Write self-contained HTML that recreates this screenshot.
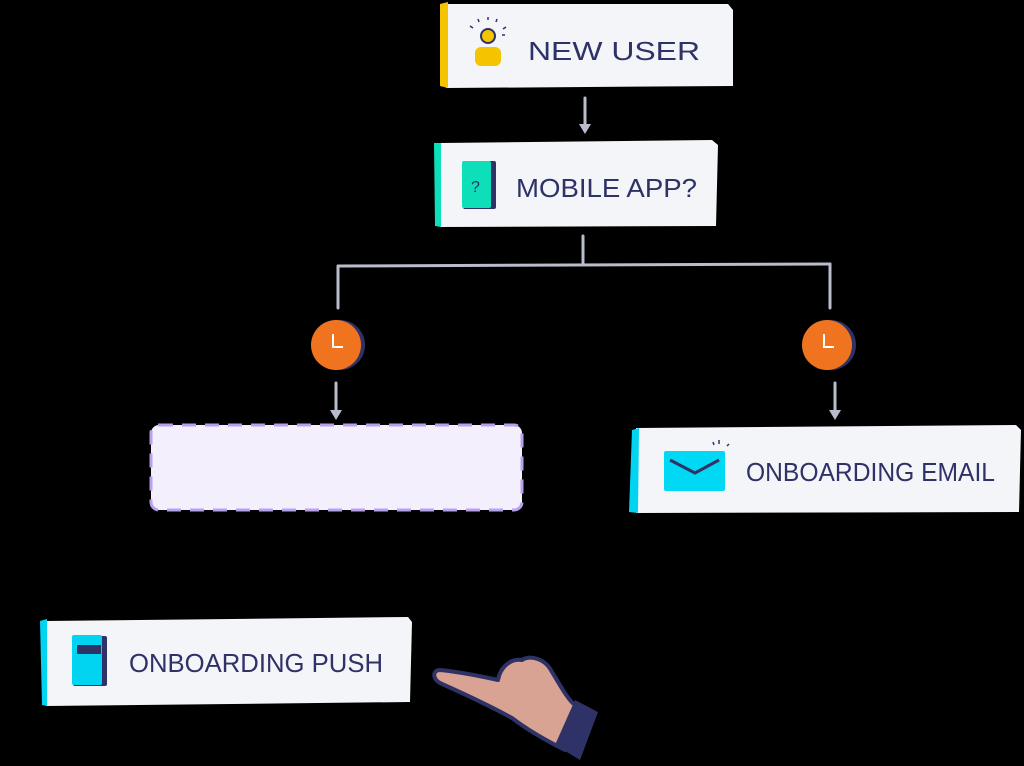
<!DOCTYPE html>
<html><head><meta charset="utf-8"><style>
html,body{margin:0;padding:0;background:#000;}
svg{display:block}
text{font-family:"Liberation Sans",sans-serif;fill:#2e3266;font-size:26px}
</style></head><body>
<svg width="1024" height="766" viewBox="0 0 1024 766">
<rect width="1024" height="766" fill="#000"/>
<g stroke="#b9bcca" stroke-width="3" fill="none" stroke-linecap="round">
<path d="M585 98 L585 128"/>
<path d="M583 236 L583 264"/>
<path d="M338 266 L830 264"/>
<path d="M338 266 L338 308"/>
<path d="M830 264 L830 308"/>
<path d="M336 383 L336 414"/>
<path d="M835 383 L835 414"/>
</g>
<g fill="#b9bcca">
<path d="M579 124 L591 124 L585 134Z"/>
<path d="M330 410 L342 410 L336 420Z"/>
<path d="M829 410 L841 410 L835 420Z"/>
</g>
<!-- new user -->
<path d="M446 4 L728 4 L733 10 L733 86 L446 88Z" fill="#f3f5f8"/>
<path d="M440 4 L448 2 L448 88 L440 86Z" fill="#f5c400"/>
<circle cx="488" cy="36" r="7" fill="#f5c400" stroke="#2e3266" stroke-width="2"/>
<rect x="475" y="47" width="26" height="19" rx="6" fill="#f5c400"/>
<g stroke="#2e3266" stroke-width="1.5"><path d="M473 28l-3-2M479 22l-1-3M488 20v-3M496 22l1-3M503 29l3-2M502 35l3 0"/></g>
<text x="528" y="60" textLength="172" lengthAdjust="spacingAndGlyphs">NEW USER</text>
<!-- mobile app -->
<path d="M440 143 L712 140 L718 145 L716 226 L440 227Z" fill="#f3f5f8"/>
<path d="M434 143 L441 143 L441 227 L435 226Z" fill="#0de0b8"/>
<rect x="463" y="161" width="33" height="48" rx="2" fill="#2e3266"/>
<rect x="462" y="161" width="29" height="47" rx="2" fill="#0de0b8"/>
<text x="471" y="192" style="font-size:16px">?</text>
<text x="516" y="197" textLength="181" lengthAdjust="spacingAndGlyphs">MOBILE APP?</text>
<!-- clocks -->
<circle cx="340" cy="345" r="25" fill="#2e3266"/>
<circle cx="336" cy="345" r="25" fill="#f07420"/>
<path d="M333 334 V347 H343" stroke="#fff" stroke-width="2" fill="none"/>
<circle cx="831" cy="345" r="25" fill="#2e3266"/>
<circle cx="827" cy="345" r="25" fill="#f07420"/>
<path d="M824 334 V347 H834" stroke="#fff" stroke-width="2" fill="none"/>
<!-- dashed -->
<rect x="151" y="425" width="371" height="85" rx="8" fill="#f3effc" stroke="#b9a0ee" stroke-width="3" stroke-dasharray="14 9"/>
<!-- email -->
<path d="M636 428 L1016 425 L1021 430 L1019 512 L636 513Z" fill="#f3f5f8"/>
<path d="M632 430 L639 428 L638 513 L629 512Z" fill="#00d4f0"/>
<rect x="664" y="451" width="61" height="40" rx="2" fill="#00d8f4"/>
<path d="M670 460 L695 473 L719 460" stroke="#2e3266" stroke-width="3" fill="none"/>
<g stroke="#2e3266" stroke-width="1.5"><path d="M713 442l1 3M719 440v4M727 446l2-2"/></g>
<text x="746" y="481" textLength="249" lengthAdjust="spacingAndGlyphs">ONBOARDING EMAIL</text>
<!-- push -->
<path d="M46 621 L408 617 L412 622 L410 702 L46 706Z" fill="#f3f5f8"/>
<path d="M40 621 L47 619 L47 706 L42 705Z" fill="#00d4f0"/>
<rect x="73" y="636" width="34" height="50" rx="2" fill="#2e3266"/>
<rect x="72" y="635" width="30" height="50" rx="2" fill="#00d4f0"/>
<rect x="77" y="645" width="24" height="9" fill="#2e3266"/>
<text x="129" y="672" textLength="254" lengthAdjust="spacingAndGlyphs">ONBOARDING PUSH</text>
<!-- hand -->
<path d="M440 670 C460 672 480 676 498 680 C500 668 510 658 522 660 C530 655 545 658 552 672 C560 685 568 700 575 705 L590 720 L565 750 C545 740 525 728 512 718 C490 706 460 692 442 684 C432 680 432 670 440 670Z" fill="#d8a392" stroke="#2e3266" stroke-width="4" stroke-linejoin="round"/>
<path d="M575 700 L598 712 L580 760 L555 745Z" fill="#2e3266"/>
</svg>
</body></html>
